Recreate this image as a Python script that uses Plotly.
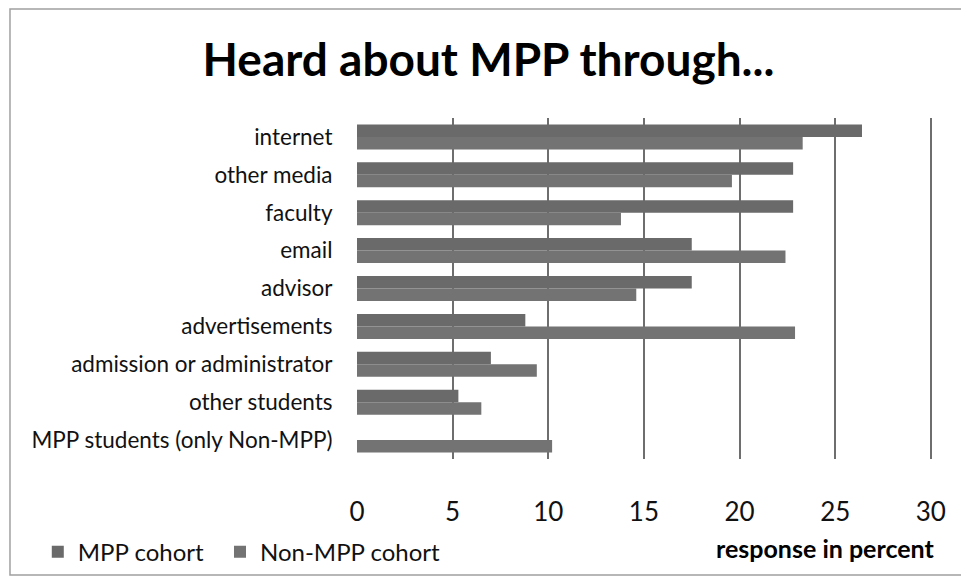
import plotly.graph_objects as go

categories = ["internet", "other media", "faculty", "email", "advisor",
              "advertisements", "admission or administrator", "other students",
              "MPP students (only Non-MPP)"]
mpp_cohort = [26.4, 22.8, 22.8, 17.5, 17.5, 8.8, 7.0, 5.3, None]
non_mpp_cohort = [23.3, 19.6, 13.8, 22.4, 14.6, 22.9, 9.4, 6.5, 10.2]
x_ticks = [0, 5, 10, 15, 20, 25, 30]

FONT = "Lato"

fig = go.Figure()
fig.add_trace(go.Bar(y=categories, x=mpp_cohort, orientation="h", name="MPP cohort",
                     marker=dict(color="#6a6a6a", line=dict(width=0)), legend="legend"))
fig.add_trace(go.Bar(y=categories, x=non_mpp_cohort, orientation="h", name="Non-MPP cohort",
                     marker=dict(color="#737373", line=dict(width=0)), legend="legend2"))

legend_style = dict(orientation="h", xref="container", xanchor="left",
                    yref="paper", y=-0.273, yanchor="middle",
                    font=dict(size=24, family=FONT, color="#111111"), itemwidth=30,
                    bgcolor="rgba(0,0,0,0)")

# page body has an 8px margin, so the figure is drawn at (8, 8)
fig.update_layout(
    width=961, height=574,
    margin=dict(l=349, r=37, t=110, b=123, autoexpand=False),
    paper_bgcolor="white", plot_bgcolor="white",
    barmode="group", bargap=0.34, bargroupgap=0,
    font=dict(family=FONT, color="#111111"),
    title=dict(text="<b>Heard about MPP through...</b>", xref="container", x=0.5, xanchor="center",
               y=0.909, yanchor="middle", font=dict(size=46, family=FONT, color="#000000")),
    xaxis=dict(range=[0, 30.06], tickvals=x_ticks, showgrid=True, gridcolor="#6e6e6e", gridwidth=1.6,
               zeroline=False, showline=False, ticks="outside", ticklen=30, tickcolor="rgba(0,0,0,0)",
               tickfont=dict(size=26, family=FONT, color="#111111")),
    yaxis=dict(autorange="reversed", showgrid=False, zeroline=False, showline=False,
               ticks="outside", ticklen=19, tickcolor="rgba(0,0,0,0)",
               tickfont=dict(size=22.5, family=FONT, color="#111111")),
    legend=dict(x=0.031, **legend_style),
    legend2=dict(x=0.2206, **legend_style),
    showlegend=True,
)

fig.add_annotation(text="<b>response in percent</b>", xref="paper", yref="paper",
                   x=1.008, xanchor="right", y=-0.261, yanchor="middle", showarrow=False,
                   font=dict(size=25, family=FONT, color="#000000"))

fig.add_shape(type="rect", xref="paper", yref="paper", x0=-0.6035, x1=1.0626, y0=-0.340, y1=1.3196,
              line=dict(color="#a0a0a0", width=1.5), layer="below")

fig.write_html("out.html")
